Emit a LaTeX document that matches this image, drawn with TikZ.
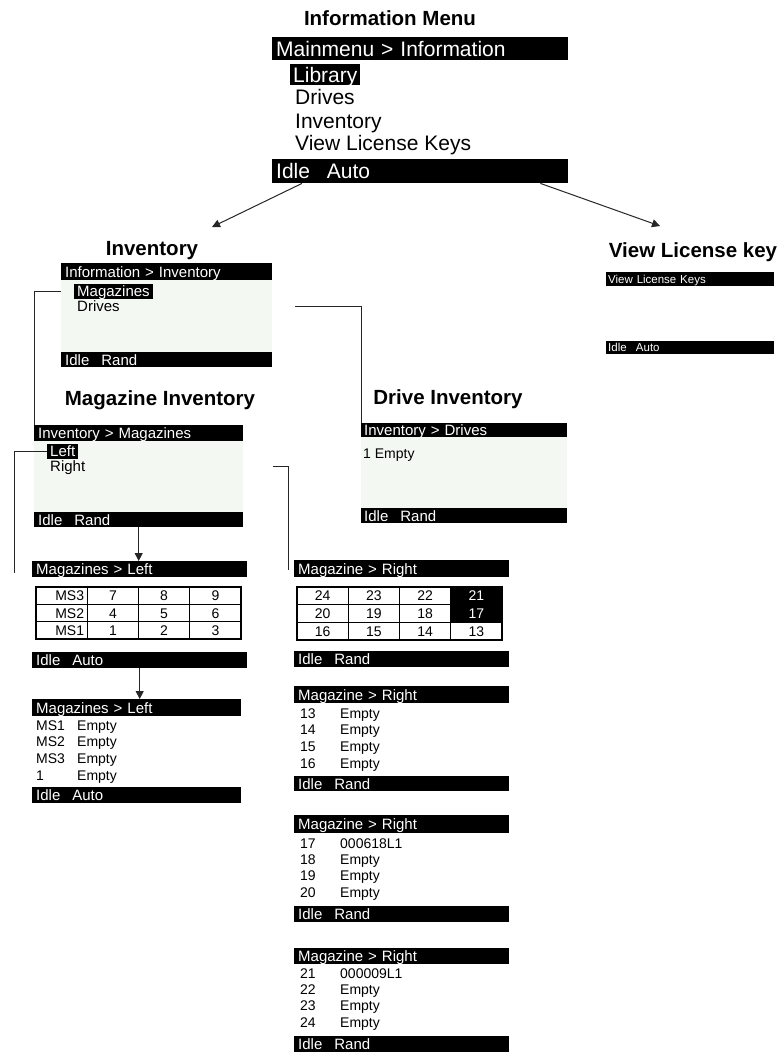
\documentclass[tikz,border=0pt]{standalone}
\usepackage{fontspec}
\setmainfont{Liberation Sans}
\usetikzlibrary{arrows.meta, calc}
\definecolor{lcdpanel}{HTML}{F3F8F3}
\definecolor{lcdink}{HTML}{262626}
\newcommand{\lcdhead}{\fontsize{20.5}{24}\bfseries\selectfont}
\newcommand{\lcdbig}{\fontsize{21}{23}\selectfont}
\newcommand{\lcdmid}{\fontsize{15}{17}\selectfont}
\newcommand{\lcdrow}{\fontsize{14}{16}\selectfont}
\newcommand{\lcdsmall}{\fontsize{11.5}{13}\selectfont}
\newcommand{\lcdgap}{\hspace{.8em}}
\tikzset{
  heading/.style={font=\lcdhead, inner sep=0pt},
  bigtxt/.style={font=\lcdbig, text height=17.5pt, text depth=2.4pt},
  midtxt/.style={font=\lcdmid, text height=12pt, text depth=1.2pt},
  rowtxt/.style={font=\lcdrow, text height=12.6pt, text depth=2.5pt},
  smalltxt/.style={font=\lcdsmall, text height=10.4pt, text depth=2.1pt},
  lcdbar/.style={fill=black, text=white, anchor=north west, inner xsep=4pt,
                 inner ysep=0pt, align=left},
  lcdbody/.style={fill=lcdpanel, anchor=north west, inner sep=0pt},
  menupick/.style={fill=black, text=white, anchor=west, inner xsep=3pt, inner ysep=1pt},
  menuitem/.style={anchor=west, inner sep=0pt},
  cellbox/.style={draw, line width=1.2pt, minimum width=51.25pt, inner sep=0pt, rowtxt},
  cellhi/.style={cellbox, fill=black, text=white},
  link/.style={line width=1pt, lcdink},
  flow/.style={link, -{Triangle[length=8pt, width=8pt]}},
}
\begin{document}
\begin{tikzpicture}[x=1pt, y=-1pt]
  \useasboundingbox (0,0) rectangle (783,1055);

  % information menu
  \node[heading] (t_main) at (390,18) {Information Menu};
  \node[lcdbar, bigtxt, text width=288pt, minimum height=23pt] (mm_top) at (272,37) {Mainmenu > Information};
  \node[menupick, bigtxt] (mm_lib) at (290,74.5) {Library};
  \foreach \lab/\yy [count=\i] in {Drives/96.5, Inventory/120.5, View License Keys/142.5}{%
    \node[menuitem, bigtxt] (mm_item\i) at (295,\yy) {\lab};}
  \node[lcdbar, bigtxt, text width=288pt, minimum height=24pt] (mm_bot) at (272,159) {Idle\lcdgap Auto};

  % inventory
  \node[heading] (t_inv) at (152,251) {Inventory};
  \node[lcdbar, midtxt, text width=203pt, minimum height=17pt] (inv_top) at (61,263) {Information > Inventory};
  \node[lcdbody, minimum width=211pt, minimum height=72pt] (inv_body) at (61,280) {};
  \node[menupick, midtxt] (inv_mag) at (74,291.5) {Magazines};
  \node[menuitem, midtxt] (inv_drv) at (77,306.3) {Drives};
  \node[lcdbar, midtxt, text width=203pt, minimum height=15pt] (inv_bot) at (61,352) {Idle\lcdgap Rand};

  % view license key
  \node[heading] (t_vlk) at (693,252) {View License key};
  \node[lcdbar, smalltxt, inner xsep=2pt, text width=164pt, minimum height=14pt] (vlk_top) at (606,272) {View License Keys};
  \node[lcdbar, smalltxt, inner xsep=2pt, text width=164pt, minimum height=13pt] (vlk_bot) at (606,341) {Idle\lcdgap Auto};

  \draw[flow] ([xshift=30pt]mm_bot.south west) -- ([xshift=60pt, yshift=24pt]t_inv.center);
  \draw[flow] ([xshift=-28pt]mm_bot.south east) -- ([xshift=-33pt, yshift=26pt]t_vlk.center);

  % magazine inventory
  \node[heading] (t_mi) at (160,400) {Magazine Inventory};
  \node[lcdbar, midtxt, text width=201pt, minimum height=16pt] (mi_top) at (34,425) {Inventory > Magazines};
  \node[lcdbody, minimum width=209pt, minimum height=71pt] (mi_body) at (34,441) {};
  \node[menupick, midtxt] (mi_sel) at (47,451.5) {Left};
  \node[menuitem, midtxt] (mi_right) at (50,466.3) {Right};
  \node[lcdbar, midtxt, text width=201pt, minimum height=15pt] (mi_bot) at (34,512) {Idle\lcdgap Rand};

  % drive inventory
  \node[heading] (t_di) at (448,399) {Drive Inventory};
  \node[lcdbar, midtxt, inner xsep=3pt, text width=200pt, minimum height=14pt] (di_top) at (361,423) {Inventory > Drives};
  \node[lcdbody, minimum width=206pt, minimum height=71pt] (di_body) at (361,437) {};
  \node[menuitem, rowtxt] (di_row) at (363,453) {1 Empty};
  \node[lcdbar, midtxt, inner xsep=3pt, text width=200pt, minimum height=15pt] (di_bot) at (361,508) {Idle\lcdgap Rand};

  \draw[link] (inv_body.west |- inv_mag) -| (mi_top.north west);
  \draw[link] ($(inv_body.east |- inv_drv)+(23,0)$) -| (di_top.north west);

  % magazines > left
  \coordinate (mi_end) at (14,573);
  \draw[link] (mi_sel.west) -| (mi_end);
  \node[lcdbar, midtxt, text width=207pt, minimum height=16pt] (ml1_top) at (32,561) {Magazines > Left};
  \foreach \a/\b/\c/\d [count=\r] in {MS3/7/8/9, MS2/4/5/6, MS1/1/2/3}{%
    \node[cellbox, minimum height=17.33pt, text width=45pt, align=right] (lt-\r-1) at (61.6,{595.7+17.33*(\r-1)}) {\a};
    \node[cellbox, minimum height=17.33pt] (lt-\r-2) at (112.9,{595.7+17.33*(\r-1)}) {\b};
    \node[cellbox, minimum height=17.33pt] (lt-\r-3) at (164.1,{595.7+17.33*(\r-1)}) {\c};
    \node[cellbox, minimum height=17.33pt] (lt-\r-4) at (215.4,{595.7+17.33*(\r-1)}) {\d};}
  \node[lcdbar, midtxt, text width=207pt, minimum height=16pt] (ml1_bot) at (32,652) {Idle\lcdgap Auto};
  \node[lcdbar, midtxt, text width=201pt, minimum height=17pt] (ml2_top) at (32,699) {Magazines > Left};
  \foreach \k/\v [count=\i] in {MS1/Empty, MS2/Empty, MS3/Empty, 1/Empty}{%
    \node[menuitem, rowtxt] (ml2-k\i) at (36,{725+16.7*(\i-1)}) {\k};
    \node[menuitem, rowtxt] (ml2-v\i) at (77,{725+16.7*(\i-1)}) {\v};}
  \node[lcdbar, midtxt, text width=201pt, minimum height=16pt] (ml2_bot) at (32,787) {Idle\lcdgap Auto};

  \draw[flow] (mi_bot.south) -- (mi_bot.south |- ml1_top.north);
  \draw[flow] (ml1_bot.south) -- (ml1_bot.south |- ml2_top.north);

  % magazine > right
  \coordinate (mr_end) at (288,570);
  \draw[link] ($(mi_body.east |- mi_right)+(30,0)$) -| (mr_end);
  \node[lcdbar, midtxt, text width=207pt, minimum height=17pt] (mr1_top) at (294,560) {Magazine > Right};
  \foreach \a/\b/\c/\d/\s [count=\r] in {24/23/22/21/cellhi, 20/19/18/17/cellhi, 16/15/14/13/cellbox}{%
    \node[cellbox, minimum height=17.67pt] (rt-\r-1) at (322.6,{595.8+17.67*(\r-1)}) {\a};
    \node[cellbox, minimum height=17.67pt] (rt-\r-2) at (373.9,{595.8+17.67*(\r-1)}) {\b};
    \node[cellbox, minimum height=17.67pt] (rt-\r-3) at (425.1,{595.8+17.67*(\r-1)}) {\c};
    \node[\s, minimum height=17.67pt] (rt-\r-4) at (476.4,{595.8+17.67*(\r-1)}) {\d};}
  \node[lcdbar, midtxt, text width=207pt, minimum height=16pt] (mr1_bot) at (294,651) {Idle\lcdgap Rand};

  \node[lcdbar, midtxt, text width=207pt, minimum height=17pt] (mr2_top) at (294,686) {Magazine > Right};
  \foreach \k/\v [count=\i] in {13/Empty, 14/Empty, 15/Empty, 16/Empty}{%
    \node[menuitem, rowtxt] (mr2-k\i) at (300,{713+16.7*(\i-1)}) {\k};
    \node[menuitem, rowtxt] (mr2-v\i) at (340,{713+16.7*(\i-1)}) {\v};}
  \node[lcdbar, midtxt, text width=207pt, minimum height=15pt] (mr2_bot) at (294,776) {Idle\lcdgap Rand};

  \node[lcdbar, midtxt, text width=207pt, minimum height=18pt] (mr3_top) at (294,815) {Magazine > Right};
  \foreach \k/\v [count=\i] in {17/000618L1, 18/Empty, 19/Empty, 20/Empty}{%
    \node[menuitem, rowtxt] (mr3-k\i) at (300,{843+16.4*(\i-1)}) {\k};
    \node[menuitem, rowtxt] (mr3-v\i) at (340,{843+16.4*(\i-1)}) {\v};}
  \node[lcdbar, midtxt, text width=207pt, minimum height=16pt] (mr3_bot) at (294,906) {Idle\lcdgap Rand};

  \node[lcdbar, midtxt, text width=207pt, minimum height=16pt] (mr4_top) at (294,948) {Magazine > Right};
  \foreach \k/\v [count=\i] in {21/000009L1, 22/Empty, 23/Empty, 24/Empty}{%
    \node[menuitem, rowtxt] (mr4-k\i) at (300,{973+16.4*(\i-1)}) {\k};
    \node[menuitem, rowtxt] (mr4-v\i) at (340,{973+16.4*(\i-1)}) {\v};}
  \node[lcdbar, midtxt, text width=207pt, minimum height=16pt] (mr4_bot) at (294,1036) {Idle\lcdgap Rand};
\end{tikzpicture}
\end{document}
